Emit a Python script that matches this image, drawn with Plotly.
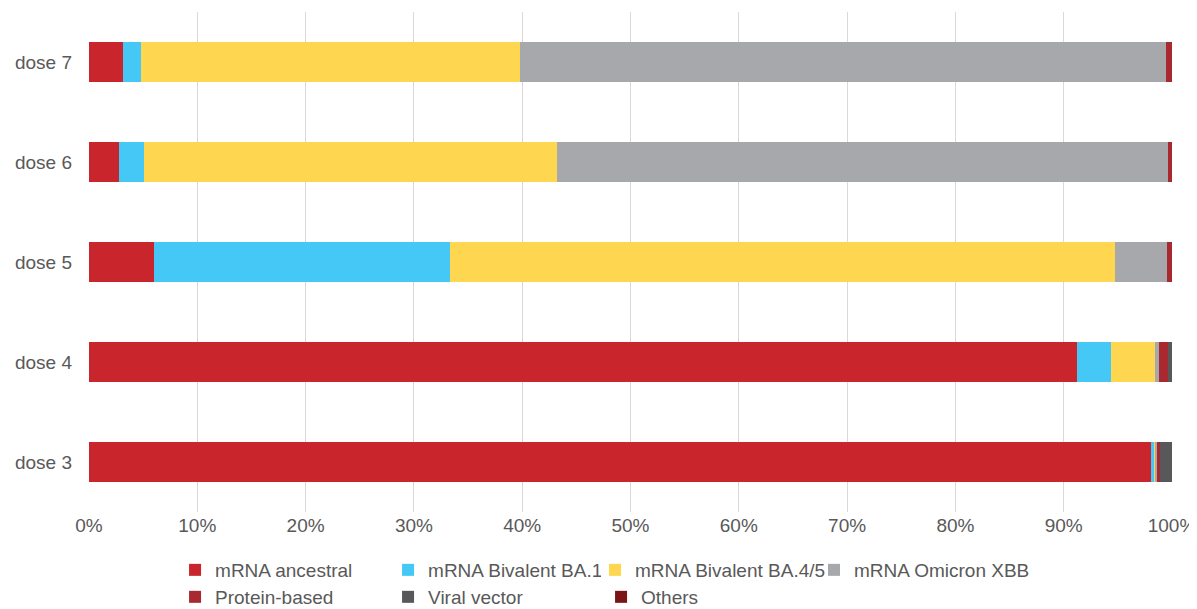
import plotly.graph_objects as go

DOSES = ['dose 3', 'dose 4', 'dose 5', 'dose 6', 'dose 7']

SERIES = [
    'mRNA ancestral',
    'mRNA Bivalent BA.1',
    'mRNA Bivalent BA.4/5',
    'mRNA Omicron XBB',
    'Protein-based',
    'Viral vector',
    'Others',
]

# share of doses (%) per series, in the order of DOSES
ANCESTRAL = [98.1, 91.2, 6.0, 2.8, 3.1]
BIVALENT_BA1 = [0.2, 3.2, 27.3, 2.3, 1.7]
BIVALENT_BA45 = [0.2, 4.0, 61.4, 38.1, 35.0]
OMICRON_XBB = [0.1, 0.4, 4.8, 56.4, 59.6]
PROTEIN = [0.3, 0.8, 0.5, 0.4, 0.6]
VIRAL = [1.1, 0.4, 0.0, 0.0, 0.0]
OTHERS = [0.0, 0.0, 0.0, 0.0, 0.0]

COLORS = ['#C9252C', '#45C8F5', '#FED64F', '#A7A8AB', '#A8292F', '#58585A', '#7B1416']

# which legend box each series goes in (long names get their own box so they aren't clipped)
LEGEND_OF = ['legend', 'legend', 'legend4', 'legend3', 'legend2', 'legend2', 'legend2']

values = [ANCESTRAL, BIVALENT_BA1, BIVALENT_BA45, OMICRON_XBB, PROTEIN, VIRAL, OTHERS]

fig = go.Figure()
for name, vals, color, lg in zip(SERIES, values, COLORS, LEGEND_OF):
    fig.add_trace(go.Bar(
        name=name,
        y=DOSES,
        x=vals,
        orientation='h',
        marker=dict(color=color, line=dict(width=0)),
        legend=lg,
    ))

legend_style = dict(
    orientation='h',
    xref='container',
    yref='container',
    x=0.1405,
    xanchor='left',
    yanchor='top',
    traceorder='normal',
    font=dict(size=19, color='#595959'),
    itemwidth=30,
    entrywidth=168,
    bgcolor='rgba(0,0,0,0)',
)

fig.update_layout(
    barmode='stack',
    bargap=0.6,
    width=1189,
    height=601,
    margin=dict(l=81, r=25, t=4, b=97),
    plot_bgcolor='white',
    paper_bgcolor='white',
    font=dict(family='Liberation Sans, Arial, sans-serif', size=19, color='#595959'),
    xaxis=dict(
        range=[0, 100],
        tickvals=list(range(0, 101, 10)),
        ticktext=[f'{v}%' for v in range(0, 101, 10)],
        showgrid=True,
        gridcolor='#D9D9D9',
        gridwidth=1,
        zeroline=False,
        showline=False,
        ticks='',
        automargin=False,
    ),
    yaxis=dict(
        categoryorder='array',
        categoryarray=DOSES,
        showgrid=False,
        zeroline=False,
        ticks='',
        ticklabelstandoff=16,
        automargin=False,
    ),
    legend=dict(legend_style, y=0.0965),
    legend2=dict(legend_style, y=0.0516),
    legend3=dict(legend_style, y=0.0965, x=0.6779, entrywidth=0),
    legend4=dict(legend_style, y=0.0965, x=0.4937, entrywidth=0),
    showlegend=True,
)

fig.write_html('out.html')
